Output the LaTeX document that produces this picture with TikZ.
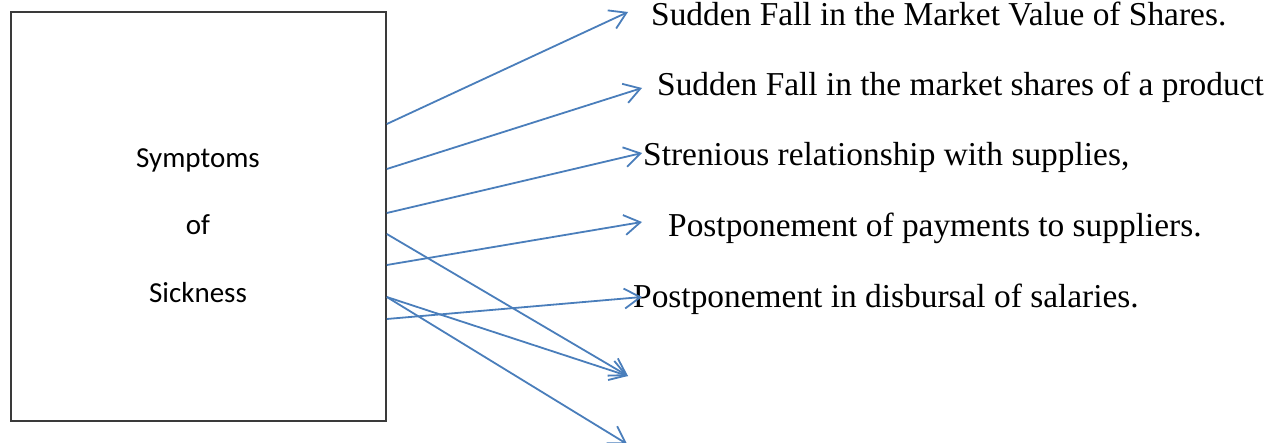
\documentclass[tikz,border=0pt]{standalone}
\usepackage{fontspec}
\setmainfont{Liberation Serif}
\newfontfamily\boxfont{Carlito}
\usetikzlibrary{arrows.meta}
\definecolor{arrowblue}{HTML}{4A7EBB}
\definecolor{frame}{HTML}{3A3A3A}
\begin{document}
\begin{tikzpicture}[x=1pt,y=-1pt,
  panel/.style={draw=frame,line width=1.6pt,minimum width=375pt,minimum height=409pt,inner sep=0pt},
  boxtext/.style={font=\boxfont\fontsize{29}{35}\selectfont,anchor=base,inner sep=0pt},
  item/.style={font=\fontsize{33.4}{40}\selectfont,anchor=base west,inner sep=0pt},
  link/.style={draw=arrowblue,line width=1.8pt,-{Straight Barb[length=16pt,width=20pt,line width=1.8pt]}}]
\useasboundingbox (0,0) rectangle (1273,443);

% the box on the left
\node[panel] (box) at (198.5,216.5) {};
\node[boxtext] (t1) at (198,168) {Symptoms};
\node[boxtext] (t2) at (198,235) {of};
\node[boxtext] (t3) at (198,303) {Sickness};

% list of symptoms
\node[item] (s1) at (651,26) {Sudden Fall in the Market Value of Shares.};
\node[item] (s2) at (657,96) {Sudden Fall in the market shares of a product};
\node[item] (s3) at (643,166) {Strenious relationship with supplies,};
\node[item] (s4) at (668,237) {Postponement of payments to suppliers.};
\node[item] (s5) at (633,308) {Postponement in disbursal of salaries.};

% start points on the box edge
\coordinate (o1) at (box.east |- 0,124);
\coordinate (o2) at (box.east |- 0,169);
\coordinate (o3) at (box.east |- 0,213);
\coordinate (o4) at (box.east |- 0,265);
\coordinate (o5) at (box.east |- 0,319);
\coordinate (o6) at (box.east |- 0,234);
\coordinate (o7) at (box.east |- 0,297);

% arrow tips
\coordinate (e1) at (628,12);
\coordinate (e2) at (642,88);
\coordinate (e3) at (642,153);
\coordinate (e4) at (642,222);
\coordinate (e5) at (642,297);
\coordinate (e6) at (628,376);
\coordinate (e7) at (627,444);

\draw[link] (o1) -- (e1);
\draw[link] (o2) -- (e2);
\draw[link] (o3) -- (e3);
\draw[link] (o4) -- (e4);
\draw[link] (o5) -- (e5);
\draw[link] (o6) -- (e6);
\draw[link] (o7) -- (e6);
\draw[link] (o7) -- (e7);
\end{tikzpicture}
\end{document}
